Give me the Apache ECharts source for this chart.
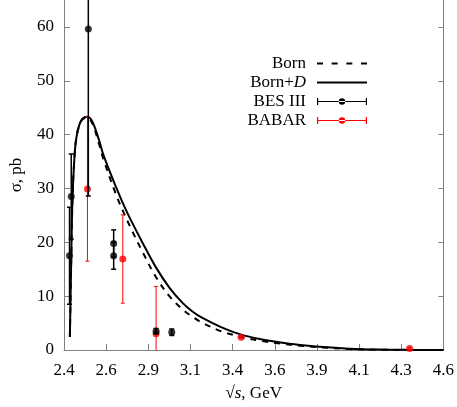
<!DOCTYPE html>
<html>
<head>
<meta charset="utf-8">
<script src="https://cdn.jsdelivr.net/npm/echarts@6/dist/echarts.min.js"></script>
<style>
html,body{margin:0;padding:0;background:#fff;}
#chart{width:457px;height:407px;}
</style>
</head>
<body>
<div id="chart"></div>
<script>
// ---- data ----
const xTickValues = [2.4, 2.6444, 2.8889, 3.1333, 3.3778, 3.6222, 3.8667, 4.1111, 4.3556, 4.6];
const xTickLabels = ['2.4', '2.6', '2.9', '3.1', '3.4', '3.6', '3.9', '4.1', '4.3', '4.6'];
const yTickValues = [0, 10, 20, 30, 40, 50, 60];

const curveX = [2.434, 2.441, 2.449, 2.461, 2.472, 2.489, 2.506, 2.533, 2.563, 2.603, 2.631, 2.705, 2.745, 2.785, 2.859, 2.934, 3.011, 3.086, 3.143, 3.200, 3.314, 3.427, 3.541, 3.655, 3.769, 3.882, 4.053, 4.224, 4.394, 4.600];
const bornD = [2.4, 15, 28, 36, 39.5, 41.8, 42.9, 43.3, 42.5, 39, 36, 30.0, 27.0, 24.3, 19.7, 15.3, 11.6, 8.8, 7.2, 6.0, 4.2, 2.85, 2.0, 1.4, 0.95, 0.6, 0.25, 0.08, 0.02, 0];
const born  = [2.4, 15, 28, 36, 39.5, 41.8, 42.8, 43.2, 42.2, 38.3, 35.2, 28.6, 25.6, 22.8, 18.0, 13.5, 10.0, 7.6, 6.2, 5.1, 3.45, 2.45, 1.7, 1.2, 0.8, 0.5, 0.18, 0.05, 0.01, 0];

const besX   = [2.432, 2.442, 2.541, 2.688, 2.688, 2.934, 3.025];
const besY   = [17.5, 28.5, 59.6, 19.8, 17.5, 3.5, 3.3];
const besErr = [9.0, 7.9, 31.0, 2.5, 2.5, 0.5, 0.6];

const babarX   = [2.536, 2.741, 2.934, 3.427, 4.404];
const babarY   = [29.9, 16.9, 3.0, 2.35, 0.3];
const babarErr = [13.4, 8.2, 8.8, 0.2, 0.2];

// ---- chart ----
const FONT = 'Liberation Serif';
const zip2 = (a, b) => a.map((v, i) => [v, b[i]]);
const zip3 = (a, b, c) => a.map((v, i) => [v, b[i], c[i]]);

function errRender(color, lw, capHalf) {
  return function (params, api) {
    const x = api.value(0), y = api.value(1), e = api.value(2);
    const lo = api.coord([x, y - e]);
    const hi = api.coord([x, y + e]);
    const cs = params.coordSys;
    const top = cs.y, bottom = cs.y + cs.height;
    const children = [];
    const y1 = Math.min(lo[1], bottom), y2 = Math.max(hi[1], top);
    children.push({type: 'line', shape: {x1: lo[0], y1: y1, x2: hi[0], y2: y2}, style: {stroke: color, lineWidth: lw}});
    if (lo[1] <= bottom) children.push({type: 'line', shape: {x1: lo[0] - capHalf, y1: lo[1], x2: lo[0] + capHalf, y2: lo[1]}, style: {stroke: color, lineWidth: lw}});
    if (hi[1] >= top) children.push({type: 'line', shape: {x1: hi[0] - capHalf, y1: hi[1], x2: hi[0] + capHalf, y2: hi[1]}, style: {stroke: color, lineWidth: lw}});
    return {type: 'group', children: children};
  };
}

const errIcon = 'path://M0,4.45h50v1.1h-50z M0,1.5h1.2v7h-1.2z M48.8,1.5h1.2v7h-1.2z M21.8,5a3.2,3.2 0 1,0 6.4,0a3.2,3.2 0 1,0 -6.4,0z';
const solidIcon = 'path://M0,4.1h50v1.8h-50z';
const dashIcon = 'path://M0,4.1h6v1.8h-6z M14.67,4.1h6v1.8h-6z M29.33,4.1h6v1.8h-6z M44,4.1h6v1.8h-6z';

const chart = echarts.init(document.getElementById('chart'), null, {renderer: 'canvas'});
const axisGray = '#808080';

chart.setOption({
  animation: false,
  backgroundColor: '#fff',
  textStyle: {fontFamily: FONT},
  grid: {left: 59, right: 11, top: 0, bottom: 56, containLabel: false},
  legend: {
    orient: 'vertical',
    align: 'right',
    right: 90,
    top: 55,
    padding: 0,
    itemWidth: 50,
    itemHeight: 10,
    itemGap: 2,
    selectedMode: false,
    textStyle: {fontFamily: FONT, fontSize: 17, color: '#000', lineHeight: 17, padding: [0, 6, 0, 0],
      rich: {n: {fontFamily: FONT, fontSize: 17, lineHeight: 17}, i: {fontFamily: FONT, fontSize: 17, fontStyle: 'italic', lineHeight: 17}}},
    formatter: function (name) {
      if (name === 'Born+D') return '{n|Born+}{i|D}';
      return name;
    },
    data: [
      {name: 'Born', icon: dashIcon, itemStyle: {color: '#000'}},
      {name: 'Born+D', icon: solidIcon, itemStyle: {color: '#000'}},
      {name: 'BES III', icon: errIcon, itemStyle: {color: '#000'}},
      {name: 'BABAR', icon: errIcon, itemStyle: {color: '#ff0000'}}
    ]
  },
  xAxis: {
    type: 'value',
    min: 2.4,
    max: 4.6,
    name: '√{s|s}, GeV',
    nameLocation: 'middle',
    nameGap: 35,
    nameTextStyle: {fontFamily: FONT, fontSize: 17, color: '#000',
      rich: {s: {fontFamily: FONT, fontSize: 17, fontStyle: 'italic', color: '#000'}}},
    axisLine: {show: true, lineStyle: {color: axisGray, width: 1}},
    axisTick: {show: true, inside: true, length: 6, lineStyle: {color: axisGray}, customValues: xTickValues},
    axisLabel: {show: true, margin: 12, fontFamily: FONT, fontSize: 17, color: '#000', customValues: xTickValues,
      formatter: function (v) {
        let best = 0, d = Infinity;
        xTickValues.forEach((t, i) => { if (Math.abs(t - v) < d) { d = Math.abs(t - v); best = i; } });
        return xTickLabels[best];
      }},
    splitLine: {show: false}
  },
  yAxis: [{
    type: 'value',
    min: 0,
    max: 65,
    name: 'σ, pb',
    nameLocation: 'middle',
    nameRotate: 90,
    nameGap: 39,
    nameTextStyle: {fontFamily: FONT, fontSize: 17, color: '#000'},
    axisLine: {show: true, lineStyle: {color: axisGray, width: 1}},
    axisTick: {show: true, inside: true, length: 6, lineStyle: {color: axisGray}, customValues: yTickValues},
    axisLabel: {show: true, margin: 10, fontFamily: FONT, fontSize: 17, color: '#000', customValues: yTickValues},
    splitLine: {show: false}
  }, {
    type: 'value',
    min: 0,
    max: 65,
    position: 'right',
    axisLine: {show: true, lineStyle: {color: axisGray, width: 1}},
    axisTick: {show: true, inside: true, length: 5, lineStyle: {color: axisGray}, customValues: yTickValues},
    axisLabel: {show: false},
    splitLine: {show: false}
  }],
  series: [
    {
      name: 'Born',
      type: 'line',
      data: zip2(curveX, born),
      showSymbol: false,
      symbol: 'none',
      smooth: 0.35,
      lineStyle: {color: '#000', width: 2, type: [6, 6]},
      itemStyle: {color: '#000'},
      z: 2
    },
    {
      name: 'Born+D',
      type: 'line',
      data: zip2(curveX, bornD),
      showSymbol: false,
      symbol: 'none',
      smooth: 0.35,
      lineStyle: {color: '#000', width: 2},
      itemStyle: {color: '#000'},
      z: 3
    },
    {
      name: 'BABAR',
      type: 'custom',
      clip: true,
      data: zip3(babarX, babarY, babarErr),
      renderItem: errRender('#ff0000', 1, 2),
      itemStyle: {color: '#ff0000'},
      z: 4
    },
    {
      name: 'BABAR',
      type: 'scatter',
      data: zip2(babarX, babarY),
      symbol: 'circle',
      symbolSize: 7,
      itemStyle: {color: '#ff0000'},
      z: 5
    },
    {
      name: 'BES III',
      type: 'custom',
      clip: true,
      data: zip3(besX, besY, besErr),
      renderItem: errRender('#000', 1.5, 2.5),
      itemStyle: {color: '#000'},
      z: 6
    },
    {
      name: 'BES III',
      type: 'scatter',
      data: zip2(besX, besY),
      symbol: 'circle',
      symbolSize: 7,
      itemStyle: {color: '#000'},
      z: 7
    }
  ]
});
</script>
</body>
</html>
